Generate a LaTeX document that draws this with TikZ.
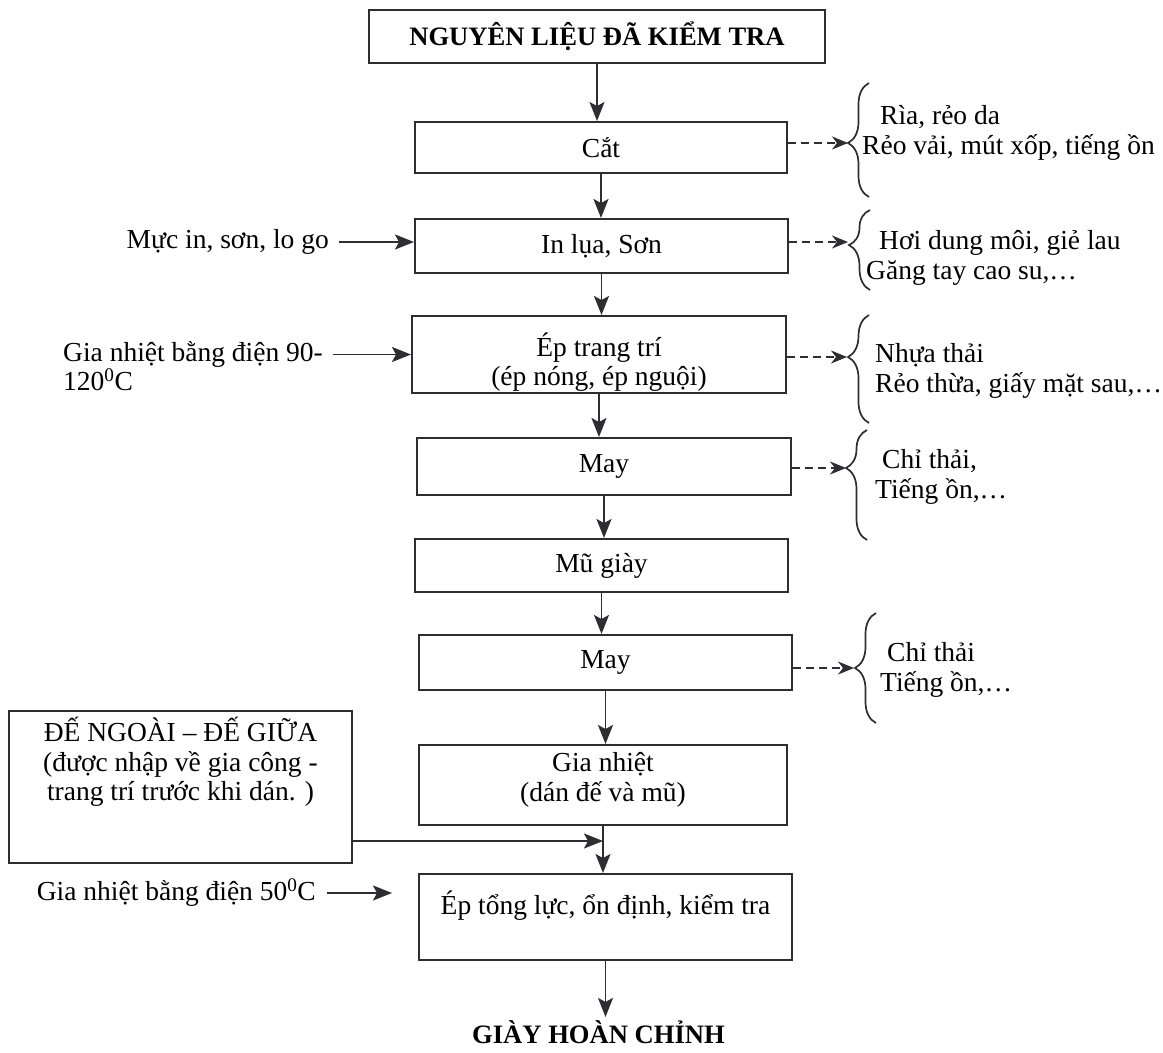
\documentclass[tikz,border=0pt]{standalone}
\usepackage{fontspec}
\setmainfont{Liberation Serif}
\usetikzlibrary{arrows.meta,decorations.pathreplacing,calc}
\definecolor{ink}{RGB}{45,45,50}
\begin{document}
\begin{tikzpicture}[x=1pt,y=-1pt,
  every node/.style={font=\fontsize{27.5}{29.5}\selectfont, text=black},
  box/.style={draw=ink, line width=2pt, inner sep=0pt, align=center},
  arr/.style={draw=ink, line width=1.9pt, -{Stealth[length=19pt,width=15pt,inset=4pt]}},
  darr/.style={draw=ink, line width=1.7pt, dash pattern=on 8pt off 5pt, -{Stealth[length=16pt,width=13pt,inset=5pt]}},
  brc/.style={draw=ink, line width=1.7pt, decorate, decoration={brace, amplitude=21pt, aspect=#1}},
  txt/.style={inner sep=0pt, align=left},
  ctxt/.style={inner sep=0pt, align=center},
  bold/.style={font=\fontsize{26.6}{29}\selectfont\bfseries}
]
\useasboundingbox (0,0) rectangle (1163,1053);

% main boxes
\node[box, bold, minimum width=456pt, minimum height=53pt] (title) at (597,36) {NGUYÊN LIỆU ĐÃ KIỂM TRA};
\node[box, minimum width=372pt, minimum height=51pt] (cat) at (601,147.5) {Cắt};
\node[box, minimum width=373pt, minimum height=54pt] (inlua) at (601.5,246) {In lụa, Sơn};
\node[box, minimum width=374pt, minimum height=77pt] (ep) at (599,354.5) {};
\node[ctxt] (eptxt) at (599,362) {Ép trang trí\\(ép nóng, ép nguội)};
\node[box, minimum width=374pt, minimum height=57pt] (may1) at (604,466.5) {May};
\node[box, minimum width=373pt, minimum height=53pt] (mu) at (601.5,565.5) {Mũ giày};
\node[box, minimum width=373pt, minimum height=55pt] (may2) at (605.5,662.5) {May};
\node[box, minimum width=368pt, minimum height=80pt] (gn) at (603,785) {};
\node[ctxt] (gntxt) at (603,780) {Gia nhiệt\\(dán đế và mũ)};
\node[box, minimum width=373pt, minimum height=86pt] (ept) at (605.5,917) {Ép tổng lực, ổn định, kiểm tra\\\mbox{}};
\node[bold] (final) at (598.5,1032) {GIÀY HOÀN CHỈNH};

% side box
\node[box, minimum width=343pt, minimum height=152pt] (de) at (180.5,787) {};
\node[ctxt] (detxt) at (180.5,762) {ĐẾ NGOÀI – ĐẾ GIỮA\\(được nhập về gia công -\\trang trí trước khi dán. )};

% left inputs
\node[txt, anchor=east] (mucin) at (329,242) {Mực in, sơn, lo go};
\node[txt, anchor=west] (gia90) at (63,366) {Gia nhiệt bằng điện 90-\\120\textsuperscript{0}C};
\node[txt, anchor=east] (gia50) at (316,893) {Gia nhiệt bằng điện 50\textsuperscript{0}C};

% right outputs
\node[txt, anchor=west] (w1) at (862,133) {\hspace*{18pt}Rìa, rẻo da\\Rẻo vải, mút xốp, tiếng ồn};
\node[txt, anchor=west] (w2) at (866,258) {\hspace*{13pt}Hơi dung môi, giẻ lau\\Găng tay cao su,…};
\node[txt, anchor=west] (w3) at (875,371) {Nhựa thải\\Rẻo thừa, giấy mặt sau,…};
\node[txt, anchor=west] (w4) at (875,477) {\hspace*{7pt}Chỉ thải,\\Tiếng ồn,…};
\node[txt, anchor=west] (w5) at (880,670) {\hspace*{7pt}Chỉ thải\\Tiếng ồn,…};

% main vertical flow
\draw[arr] (title.south) -- (title.south |- cat.north);
\draw[arr] (cat.south) -- (cat.south |- inlua.north);
\draw[arr] (inlua.south) -- (inlua.south |- ep.north);
\draw[arr] (ep.south) -- (ep.south |- may1.north);
\draw[arr] (may1.south) -- (may1.south |- mu.north);
\draw[arr] (mu.south) -- (mu.south |- may2.north);
\draw[arr] (may2.south) -- (may2.south |- gn.north);
\coordinate (join) at ($(gn.south)+(0,15)$);
\draw[arr] (gn.south) -- (gn.south |- ept.north);
\draw[arr] (ept.south) -- (ept.south |- final.north);

% inputs
\draw[arr] (de.east |- join) -- (join);
\draw[arr, shorten <=10pt] (mucin.east) -- (inlua.west |- mucin.east);
\draw[arr, shorten <=10pt] (gia90.east |- ep.west) -- (ep.west);
\draw[arr, shorten <=11pt, shorten >=26pt] (gia50.east) -- (ept.west |- gia50.east);

% waste outputs
\coordinate (t1) at (848,143);
\coordinate (t2) at (848,242);
\coordinate (t3) at (847,357);
\coordinate (t4) at (846,468);
\coordinate (t5) at (854,668);
\draw[darr] (cat.east |- t1) -- (t1);
\draw[darr] (inlua.east |- t2) -- (t2);
\draw[darr] (ep.east |- t3) -- (t3);
\draw[darr] (may1.east |- t4) -- (t4);
\draw[darr] (may2.east |- t5) -- (t5);

\draw[brc=0.474] (869,197) -- (869,83);
\draw[brc=0.5625] (870,290) -- (870,210);
\draw[brc=0.611] (869,423) -- (869,315);
\draw[brc=0.655] (867,540) -- (867,430);
\draw[brc=0.5] (876,723) -- (876,613);
\end{tikzpicture}
\end{document}
